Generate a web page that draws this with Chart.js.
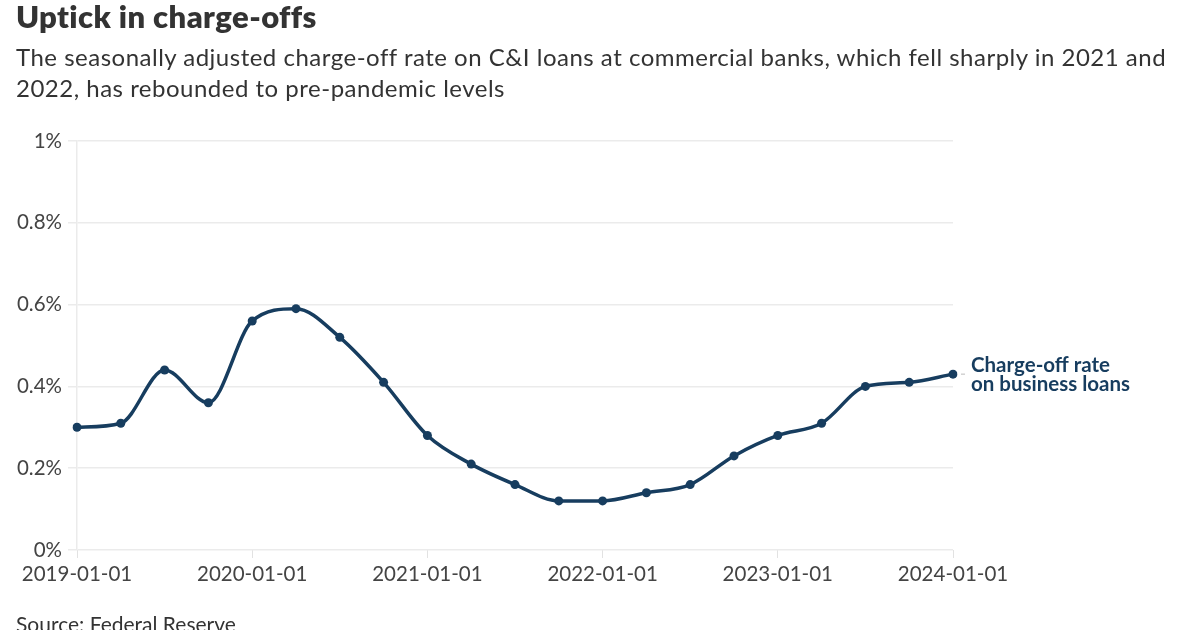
<!DOCTYPE html>
<html>
<head>
<meta charset="utf-8">
<script src="https://cdn.jsdelivr.net/npm/chart.js@4"></script>
<style>
  html, body { margin: 0; padding: 0; background: #fff; }
  body { width: 1200px; height: 630px; overflow: hidden; position: relative; font-family: Lato, sans-serif; }
  #wrap { position: absolute; left: 0; top: 0; width: 1200px; height: 630px; }
  h1 { position: absolute; left: 16px; top: -3px; margin: 0; font-size: 31px; font-weight: 800; color: #333; line-height: 38px; letter-spacing: 0.4px; }
  .sub { position: absolute; left: 16px; top: 41px; width: 1178px; margin: 0; font-size: 24px; color: #333; line-height: 31px; letter-spacing: 0.5px; }
  .src { position: absolute; left: 16px; top: 611px; margin: 0; font-size: 21px; color: #333; line-height: 26px; }
</style>
</head>
<body>
<div id="wrap"><canvas id="line-chart" width="1200" height="630"></canvas></div>
<h1>Uptick in charge-offs</h1>
<p class="sub">The seasonally adjusted charge-off rate on C&amp;I loans at commercial banks, which fell sharply in 2021 and 2022, has rebounded to pre-pandemic levels</p>
<p class="src">Source: Federal Reserve</p>
<script>
let quarters = [
	"2019-01-01", "2019-04-01", "2019-07-01", "2019-10-01",
	"2020-01-01", "2020-04-01", "2020-07-01", "2020-10-01",
	"2021-01-01", "2021-04-01", "2021-07-01", "2021-10-01",
	"2022-01-01", "2022-04-01", "2022-07-01", "2022-10-01",
	"2023-01-01", "2023-04-01", "2023-07-01", "2023-10-01",
	"2024-01-01"
];
let chargeOffRate = [
	0.30, 0.31, 0.44, 0.36,
	0.56, 0.59, 0.52, 0.41,
	0.28, 0.21, 0.16, 0.12,
	0.12, 0.14, 0.16, 0.23,
	0.28, 0.31, 0.40, 0.41,
	0.43
];
let seriesLabel = ["Charge-off rate", "on business loans"];
let yTicks = [0, 0.2, 0.4, 0.6, 0.8, 1];

let lineColor = "#173d5f";

// label next to the last point
const endLabel = {
	id: "endLabel",
	afterDatasetsDraw(chart) {
		let meta = chart.getDatasetMeta(0);
		let pt = meta.data[meta.data.length - 1];
		let ctx = chart.ctx;
		ctx.save();
		ctx.strokeStyle = "#bbb";
		ctx.lineWidth = 1;
		ctx.beginPath();
		ctx.moveTo(pt.x + 8, pt.y);
		ctx.lineTo(pt.x + 12, pt.y);
		ctx.stroke();
		ctx.fillStyle = lineColor;
		ctx.font = "bold 20.5px Lato";
		ctx.textBaseline = "middle";
		ctx.fillText(seriesLabel[0], pt.x + 18, pt.y - 9);
		ctx.fillText(seriesLabel[1], pt.x + 18, pt.y + 10);
		ctx.restore();
	}
};

let dataPlot = new Chart(document.getElementById("line-chart"), {
	type: "line",
	data: {
		labels: quarters,
		datasets: [{
			data: chargeOffRate,
			label: seriesLabel.join(" "),
			borderColor: lineColor,
			backgroundColor: lineColor,
			borderWidth: 3.5,
			pointRadius: 4.5,
			pointBorderWidth: 0,
			cubicInterpolationMode: "monotone",
			fill: false
		}]
	},
	plugins: [endLabel],
	options: {
		responsive: false,
		animation: false,
		layout: { padding: { left: 0, right: 247, top: 141, bottom: 0 } },
		plugins: { legend: { display: false }, tooltip: { enabled: false } },
		scales: {
			x: {
				offset: false,
				afterFit(scale) { scale.height = 80; },
				border: { display: false },
				grid: {
					drawOnChartArea: false,
					tickLength: 8,
					color: (c) => (c.index % 4 === 0 ? "#e2e2e2" : "rgba(0,0,0,0)")
				},
				ticks: {
					autoSkip: false,
					maxRotation: 0,
					padding: 4,
					color: "#444",
					font: { family: "Lato", size: 20.5 },
					callback: function (v, i) { return i % 4 === 0 ? quarters[i] : ""; }
				}
			},
			y: {
				min: 0,
				max: 1,
				afterFit(scale) { scale.width = 77; },
				afterBuildTicks(scale) { scale.ticks = yTicks.map(v => ({ value: v })); },
				border: { display: true, color: "#ebebeb", width: 1.5 },
				grid: { color: "#ebebeb", lineWidth: 1.5, tickLength: 9 },
				ticks: {
					padding: 6,
					color: "#444",
					font: { family: "Lato", size: 20.5 },
					callback: (v) => Number(v.toFixed(1)) + "%"
				}
			}
		}
	}
});
</script>
</body>
</html>
